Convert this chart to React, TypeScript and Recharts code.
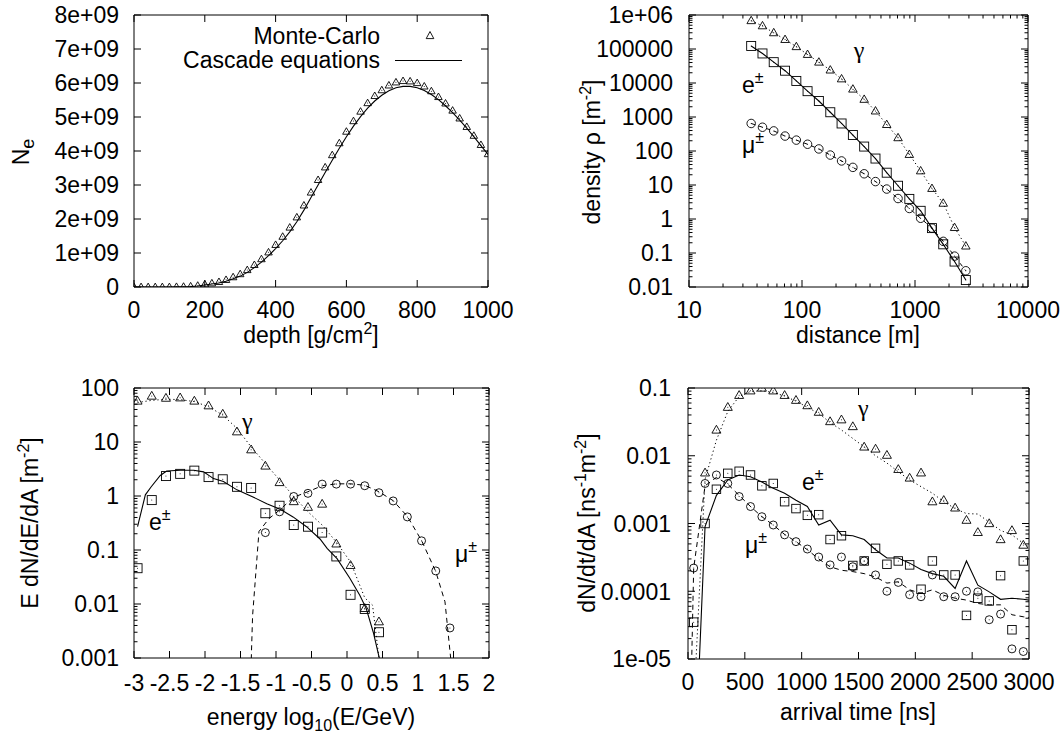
import React from "react";
import { ComposedChart, XAxis, YAxis, Line, Scatter, ReferenceLine } from "recharts";

const FONT = '"Liberation Sans", Arial, Helvetica, sans-serif';
const GREEK = '"Liberation Serif", "DejaVu Serif", serif';
const FS = 23;

// ---------------- Panel 1: longitudinal profile ----------------
const depth = [0, 20, 40, 60, 80, 100, 120, 140, 160, 180, 200, 220, 240, 260, 280, 300, 320, 340, 360, 380, 400, 420, 440, 460, 480, 500, 520, 540, 560, 580, 600, 620, 640, 660, 680, 700, 720, 740, 760, 780, 800, 820, 840, 860, 880, 900, 920, 940, 960, 980, 1000];
// N_e in units of 1e9
const neMonteCarlo = [0, 0, 0, 0, 0, 0, 0.005, 0.01, 0.02, 0.04, 0.08, 0.11, 0.15, 0.21, 0.29, 0.38, 0.5, 0.65, 0.82, 1.02, 1.24, 1.48, 1.75, 2.05, 2.4, 2.78, 3.15, 3.52, 3.88, 4.23, 4.57, 4.88, 5.16, 5.41, 5.62, 5.79, 5.93, 6.02, 6.06, 6.05, 6.0, 5.9, 5.76, 5.59, 5.4, 5.19, 4.96, 4.71, 4.45, 4.18, 3.91];
const neCascade = [0, 0, 0, 0, 0, 0, 0.003, 0.007, 0.015, 0.03, 0.06, 0.09, 0.12, 0.17, 0.24, 0.32, 0.43, 0.57, 0.73, 0.92, 1.13, 1.36, 1.62, 1.92, 2.26, 2.63, 3.0, 3.37, 3.73, 4.08, 4.42, 4.73, 5.01, 5.26, 5.47, 5.64, 5.77, 5.86, 5.9, 5.9, 5.86, 5.78, 5.66, 5.51, 5.33, 5.13, 4.91, 4.67, 4.42, 4.16, 3.9];
const p1XTicks = [0, 200, 400, 600, 800, 1000];
const p1XLabels = ["0", "200", "400", "600", "800", "1000"];
const p1YTicks = [0, 1, 2, 3, 4, 5, 6, 7, 8];
const p1YLabels = ["0", "1e+09", "2e+09", "3e+09", "4e+09", "5e+09", "6e+09", "7e+09", "8e+09"];

// ---------------- Panel 2: lateral distribution ----------------
const distance = [35.5, 44.7, 56.2, 70.8, 89.1, 112, 141, 178, 224, 282, 355, 447, 562, 708, 891, 1122, 1413, 1778, 2239, 2818];
const rhoGamma = [680000, 480000, 300000, 190000, 117000, 69000, 41000, 24000, 13200, 6600, 3300, 1500, 600, 245, 79, 26, 7.9, 2.9, 0.56, 0.16];
const rhoElectron = [123000, 74000, 41000, 23000, 11500, 5750, 2950, 1380, 645, 295, 135, 60, 23, 9.5, 3.9, 1.74, 0.54, 0.18, 0.056, 0.016];
const rhoMuon = [645, 500, 390, 275, 209, 158, 115, 76, 51, 33, 21.4, 12.6, 7.6, 4.0, 2.04, 1.05, 0.54, 0.22, 0.081, 0.030];
const p2XMajors = [10, 100, 1000, 10000];
const p2XLabels = ["10", "100", "1000", "10000"];
const p2YMajors = [0.01, 0.1, 1, 10, 100, 1000, 10000, 100000, 1000000];
const p2YLabels = ["0.01", "0.1", "1", "10", "100", "1000", "10000", "100000", "1e+06"];

// ---------------- Panel 3: energy spectra ----------------
const energyMC = [-2.95, -2.75, -2.55, -2.35, -2.15, -1.95, -1.75, -1.55, -1.35, -1.15, -0.95, -0.75, -0.55, -0.35, -0.15, 0.05, 0.25, 0.45];
const specGammaMC = [57.5, 71, 65, 66, 57.5, 47, 33, 15.5, 7.2, 3.6, 1.78, 0.79, 0.62, 0.71, 0.13, 0.052, 0.0083, 0.0047];
const specElectronMC = [0.046, 0.84, 2.34, 2.57, 2.95, 2.24, 2.04, 1.48, 1.41, 0.48, 0.66, 0.29, 0.27, 0.21, 0.076, 0.0148, 0.0081, 0.003];
const energyMuMC = [-1.15, -0.95, -0.75, -0.55, -0.35, -0.15, 0.05, 0.25, 0.45, 0.65, 0.85, 1.05, 1.25, 1.45];
const specMuonMC = [0.21, 0.51, 0.98, 1.12, 1.66, 1.66, 1.66, 1.55, 1.15, 0.81, 0.41, 0.148, 0.041, 0.0036];
const energyGammaCE = [-2.95, -2.75, -2.55, -2.35, -2.15, -1.95, -1.75, -1.55, -1.35, -1.15, -0.95, -0.75, -0.55, -0.35, -0.15, 0.05, 0.25, 0.36, 0.45, 0.47];
const specGammaCE = [54, 59, 62, 61, 56, 45, 31.5, 17.9, 8.1, 4.0, 1.98, 0.98, 0.51, 0.29, 0.14, 0.06, 0.013, 0.0095, 0.001, 0.0004];
const energyElectronCE = [-2.95, -2.84, -2.76, -2.63, -2.54, -2.35, -2.16, -2.02, -1.88, -1.74, -1.55, -1.34, -1.13, -0.94, -0.76, -0.57, -0.38, -0.28, -0.14, 0.04, 0.18, 0.27, 0.37, 0.455, 0.5];
const specElectronCE = [0.27, 1.05, 1.47, 2.4, 2.9, 3.0, 3.0, 2.8, 2.1, 1.85, 1.3, 0.98, 0.72, 0.57, 0.41, 0.27, 0.16, 0.107, 0.069, 0.03, 0.0145, 0.0083, 0.003, 0.001, 0.0003];
const energyMuonCE = [-1.36, -1.33, -1.24, -1.1, -0.95, -0.75, -0.55, -0.35, -0.15, 0.05, 0.25, 0.45, 0.65, 0.85, 1.05, 1.25, 1.38, 1.46, 1.48];
const specMuonCE = [0.0003, 0.006, 0.22, 0.38, 0.55, 0.95, 1.2, 1.55, 1.68, 1.68, 1.58, 1.2, 0.82, 0.42, 0.15, 0.04, 0.011, 0.001, 0.0003];
const p3XMajors = [-3, -2.5, -2, -1.5, -1, -0.5, 0, 0.5, 1, 1.5, 2];
const p3XLabels = ["-3", "-2.5", "-2", "-1.5", "-1", "-0.5", "0", "0.5", "1", "1.5", "2"];
const p3YMajors = [0.001, 0.01, 0.1, 1, 10, 100];
const p3YLabels = ["0.001", "0.01", "0.1", "1", "10", "100"];

// ---------------- Panel 4: arrival time ----------------
const timeMC = [50, 150, 250, 350, 450, 550, 650, 750, 850, 950, 1050, 1150, 1250, 1350, 1450, 1550, 1650, 1750, 1850, 1950, 2050, 2150, 2250, 2350, 2450, 2550, 2650, 2750, 2850, 2950];
const timeGammaMC = [150, 250, 350, 450, 550, 650, 750, 850, 950, 1050, 1150, 1250, 1350, 1450, 1550, 1650, 1750, 1850, 1950, 2050, 2150, 2250, 2350, 2450, 2550, 2650, 2750, 2850, 2950];
const tGammaMC = [0.0056, 0.024, 0.052, 0.078, 0.091, 0.1, 0.091, 0.078, 0.066, 0.055, 0.044, 0.032, 0.034, 0.027, 0.0135, 0.0126, 0.0102, 0.0063, 0.0047, 0.0056, 0.0021, 0.0022, 0.0017, 0.00112, 0.00074, 0.001, 0.00058, 0.00079, 0.00048];
const tElectronMC = [0.000035, 0.001, 0.0032, 0.0055, 0.0059, 0.0052, 0.0036, 0.0039, 0.0021, 0.00166, 0.00132, 0.00135, 0.00058, 0.00066, 0.00024, 0.00028, 0.00043, 0.00025, 0.00028, 0.000245, 0.000107, 0.00028, 0.000174, 0.000174, 0.000044, 0.000079, 0.000072, 0.00017, 0.000027, 0.00028];
const tMuonMC = [0.00022, 0.0039, 0.0052, 0.0039, 0.0025, 0.00178, 0.00126, 0.00095, 0.00068, 0.00054, 0.00042, 0.00032, 0.000245, 0.00032, 0.00023, 0.00028, 0.000174, 0.0001, 0.000135, 0.000089, 0.000083, 0.000174, 0.000083, 0.000083, 0.0001, 0.000098, 0.000038, 0.000046, 0.0000141, 0.0000129];
const timeCE = [50, 150, 250, 350, 450, 550, 650, 750, 850, 950, 1050, 1150, 1250, 1350, 1450, 1550, 1650, 1750, 1850, 1950, 2050, 2150, 2250, 2350, 2450, 2550, 2650, 2750, 2850, 2950, 3000];
const tGammaCE = [0.000002, 0.0045, 0.017, 0.045, 0.075, 0.089, 0.091, 0.086, 0.076, 0.064, 0.052, 0.042, 0.031, 0.024, 0.018, 0.0135, 0.01, 0.0078, 0.0058, 0.0044, 0.0035, 0.0028, 0.0021, 0.00166, 0.0014, 0.00138, 0.00105, 0.00079, 0.00068, 0.00051, 0.00045];
const tElectronCE = [0.0000001, 0.0009, 0.0026, 0.0044, 0.0052, 0.0049, 0.0041, 0.0033, 0.0028, 0.0022, 0.00178, 0.00095, 0.00112, 0.00068, 0.00066, 0.00058, 0.00041, 0.00031, 0.00031, 0.00026, 0.00021, 0.000182, 0.000166, 0.00011, 0.00028, 0.000123, 0.000098, 0.000076, 0.000079, 0.000076, 0.000074];
const timeMuonCE = [20, 50, 150, 250, 350, 450, 550, 650, 750, 850, 950, 1050, 1150, 1250, 1350, 1450, 1550, 1650, 1750, 1850, 1950, 2050, 2150, 2250, 2350, 2450, 2550, 2650, 2750, 2850, 2950, 3000];
const tMuonCE = [0.000001, 0.00022, 0.0036, 0.0048, 0.0038, 0.0026, 0.00178, 0.00126, 0.00095, 0.00069, 0.00054, 0.00041, 0.0003, 0.00023, 0.000204, 0.000195, 0.000182, 0.000162, 0.000132, 0.000138, 0.000105, 0.000093, 0.000105, 0.000087, 0.000079, 0.000074, 0.000066, 0.000063, 0.000063, 0.000045, 0.000042, 0.000041];
const p4XMajors = [0, 500, 1000, 1500, 2000, 2500, 3000];
const p4XLabels = ["0", "500", "1000", "1500", "2000", "2500", "3000"];
const p4YMajors = [0.00001, 0.0001, 0.001, 0.01, 0.1];
const p4YLabels = ["1e-05", "0.0001", "0.001", "0.01", "0.1"];

// ---------------- helpers ----------------
const pts = (xs: number[], ys: number[]) => xs.map((x, i) => ({ x, y: ys[i] }));

const logTicks = (majors: number[]) => {
  const out: number[] = [];
  majors.forEach((m, i) => {
    out.push(m);
    if (i < majors.length - 1) {
      for (let k = 2; k <= 9; k++) out.push(parseFloat((m * k).toPrecision(6)));
    }
  });
  return out;
};

const findMajor = (majors: number[], v: number) =>
  majors.findIndex((m) => (m === 0 ? v === 0 : Math.abs(m - v) <= 1e-6 * Math.abs(m)));

const makeXTick = (majors: number[], labels: string[], top: number, bottom: number, dy: number) => (p: any) => {
  const x = p.x;
  const v = p.payload ? p.payload.value : NaN;
  const j = findMajor(majors, v);
  const len = j >= 0 ? 7 : 3.5;
  return (
    <g>
      <line x1={x} x2={x} y1={bottom} y2={bottom - len} stroke="#000" strokeWidth={1} />
      <line x1={x} x2={x} y1={top} y2={top + len} stroke="#000" strokeWidth={1} />
      {j >= 0 && (
        <text x={x} y={bottom + dy} textAnchor="middle" fontFamily={FONT} fontSize={FS} fill="#000">
          {labels[j]}
        </text>
      )}
    </g>
  );
};

const makeYTick = (majors: number[], labels: string[], left: number, right: number, gap: number) => (p: any) => {
  const y = p.y;
  const v = p.payload ? p.payload.value : NaN;
  const j = findMajor(majors, v);
  const len = j >= 0 ? 7 : 3.5;
  return (
    <g>
      <line x1={left} x2={left + len} y1={y} y2={y} stroke="#000" strokeWidth={1} />
      <line x1={right} x2={right - len} y1={y} y2={y} stroke="#000" strokeWidth={1} />
      {j >= 0 && (
        <text x={left - gap} y={y} dy="0.36em" textAnchor="end" fontFamily={FONT} fontSize={FS} fill="#000">
          {labels[j]}
        </text>
      )}
    </g>
  );
};

const triShape = (s: number) => (p: any) => {
  const { cx, cy } = p;
  if (!Number.isFinite(cx) || !Number.isFinite(cy)) return <g />;
  const h = s * 0.87;
  return (
    <g>
      <polygon
        points={`${cx},${cy - h * 0.6} ${cx - s / 2},${cy + h * 0.4} ${cx + s / 2},${cy + h * 0.4}`}
        fill="none"
        stroke="#000"
        strokeWidth={0.9}
      />
      <circle cx={cx} cy={cy} r={0.5} fill="#000" />
    </g>
  );
};
const sqShape = (s: number) => (p: any) => {
  const { cx, cy } = p;
  if (!Number.isFinite(cx) || !Number.isFinite(cy)) return <g />;
  return (
    <g>
      <rect x={cx - s / 2} y={cy - s / 2} width={s} height={s} fill="none" stroke="#000" strokeWidth={0.9} />
      <circle cx={cx} cy={cy} r={0.5} fill="#000" />
    </g>
  );
};
const circShape = (s: number) => (p: any) => {
  const { cx, cy } = p;
  if (!Number.isFinite(cx) || !Number.isFinite(cy)) return <g />;
  return (
    <g>
      <circle cx={cx} cy={cy} r={s / 2} fill="none" stroke="#000" strokeWidth={0.9} />
      <circle cx={cx} cy={cy} r={0.5} fill="#000" />
    </g>
  );
};

type PanelProps = {
  left: number;
  top: number;
  width: number;
  height: number;
  pl: number;
  pr: number;
  pt: number;
  pb: number;
  xDomain: [number, number];
  yDomain: [number, number];
  xLog?: boolean;
  yLog?: boolean;
  xTicks: number[];
  xMajors: number[];
  xLabels: string[];
  yTicks: number[];
  yMajors: number[];
  yLabels: string[];
  yGap: number;
  xDy: number;
  children: React.ReactNode;
};

const AXW = 60;
const AXH = 30;

function Panel(p: PanelProps) {
  const margin = { left: p.pl - AXW, right: p.width - p.pr, top: p.pt, bottom: p.height - p.pb - AXH };
  return (
    <div style={{ position: "absolute", left: p.left, top: p.top }}>
      <ComposedChart width={p.width} height={p.height} margin={margin}>
        <XAxis
          dataKey="x"
          type="number"
          scale={p.xLog ? "log" : "linear"}
          domain={p.xDomain}
          allowDataOverflow
          ticks={p.xTicks}
          interval={0}
          height={AXH}
          tickSize={0}
          tickMargin={0}
          tickLine={false}
          axisLine={{ stroke: "#000", strokeWidth: 1 }}
          tick={makeXTick(p.xMajors, p.xLabels, p.pt, p.pb, p.xDy)}
        />
        <YAxis
          dataKey="y"
          type="number"
          scale={p.yLog ? "log" : "linear"}
          domain={p.yDomain}
          allowDataOverflow
          ticks={p.yTicks}
          interval={0}
          width={AXW}
          tickSize={0}
          tickMargin={0}
          tickLine={false}
          axisLine={{ stroke: "#000", strokeWidth: 1 }}
          tick={makeYTick(p.yMajors, p.yLabels, p.pl, p.pr, p.yGap)}
        />
        <ReferenceLine y={p.yDomain[1]} stroke="#000" strokeWidth={1} />
        <ReferenceLine x={p.xDomain[1]} stroke="#000" strokeWidth={1} />
        {p.children}
      </ComposedChart>
    </div>
  );
}

const DOT = "1.2 2.8";
const DASH = "5 4";

export default function App() {
  return (
    <div style={{ position: "absolute", left: 0, top: 0, width: 1064, height: 734, background: "#fff" }}>
      {/* Panel 1 */}
      <Panel
        left={0}
        top={0}
        width={532}
        height={367}
        pl={134}
        pr={488}
        pt={15}
        pb={287}
        xDomain={[0, 1000]}
        yDomain={[0, 8]}
        xTicks={p1XTicks}
        xMajors={p1XTicks}
        xLabels={p1XLabels}
        yTicks={p1YTicks}
        yMajors={p1YTicks}
        yLabels={p1YLabels}
        yGap={15}
        xDy={31}
      >
        <Line data={pts(depth, neCascade)} dataKey="y" stroke="#000" strokeWidth={1.1} dot={false} activeDot={false} isAnimationActive={false} />
        <Scatter data={pts(depth, neMonteCarlo)} shape={triShape(7.5)} isAnimationActive={false} />
      </Panel>

      {/* Panel 2 */}
      <Panel
        left={532}
        top={0}
        width={532}
        height={367}
        pl={157}
        pr={496}
        pt={15}
        pb={287}
        xDomain={[10, 10000]}
        yDomain={[0.01, 1000000]}
        xLog
        yLog
        xTicks={logTicks(p2XMajors)}
        xMajors={p2XMajors}
        xLabels={p2XLabels}
        yTicks={logTicks(p2YMajors)}
        yMajors={p2YMajors}
        yLabels={p2YLabels}
        yGap={16}
        xDy={31}
      >
        <Line data={pts(distance, rhoGamma)} dataKey="y" stroke="#000" strokeWidth={1} strokeDasharray={DOT} dot={false} activeDot={false} isAnimationActive={false} />
        <Line data={pts(distance, rhoElectron)} dataKey="y" stroke="#000" strokeWidth={1.1} dot={false} activeDot={false} isAnimationActive={false} />
        <Line data={pts(distance, rhoMuon)} dataKey="y" stroke="#000" strokeWidth={1} strokeDasharray="4 4" dot={false} activeDot={false} isAnimationActive={false} />
        <Scatter data={pts(distance, rhoGamma)} shape={triShape(8.5)} isAnimationActive={false} />
        <Scatter data={pts(distance, rhoElectron)} shape={sqShape(9)} isAnimationActive={false} />
        <Scatter data={pts(distance, rhoMuon)} shape={circShape(8.5)} isAnimationActive={false} />
      </Panel>

      {/* Panel 3 */}
      <Panel
        left={0}
        top={367}
        width={532}
        height={367}
        pl={134}
        pr={489}
        pt={21}
        pb={291}
        xDomain={[-3, 2]}
        yDomain={[0.001, 100]}
        yLog
        xTicks={p3XMajors}
        xMajors={p3XMajors}
        xLabels={p3XLabels}
        yTicks={logTicks(p3YMajors)}
        yMajors={p3YMajors}
        yLabels={p3YLabels}
        yGap={15}
        xDy={33}
      >
        <Line data={pts(energyGammaCE, specGammaCE)} dataKey="y" stroke="#000" strokeWidth={1} strokeDasharray={DOT} dot={false} activeDot={false} isAnimationActive={false} />
        <Line data={pts(energyElectronCE, specElectronCE)} dataKey="y" stroke="#000" strokeWidth={1.1} dot={false} activeDot={false} isAnimationActive={false} />
        <Line data={pts(energyMuonCE, specMuonCE)} dataKey="y" stroke="#000" strokeWidth={1} strokeDasharray={DASH} dot={false} activeDot={false} isAnimationActive={false} />
        <Scatter data={pts(energyMC, specGammaMC)} shape={triShape(9)} isAnimationActive={false} />
        <Scatter data={pts(energyMC, specElectronMC)} shape={sqShape(9)} isAnimationActive={false} />
        <Scatter data={pts(energyMuMC, specMuonMC)} shape={circShape(8)} isAnimationActive={false} />
      </Panel>

      {/* Panel 4 */}
      <Panel
        left={532}
        top={367}
        width={532}
        height={367}
        pl={156}
        pr={497}
        pt={21}
        pb={292}
        xDomain={[0, 3000]}
        yDomain={[0.00001, 0.1]}
        yLog
        xTicks={p4XMajors}
        xMajors={p4XMajors}
        xLabels={p4XLabels}
        yTicks={logTicks(p4YMajors)}
        yMajors={p4YMajors}
        yLabels={p4YLabels}
        yGap={17}
        xDy={31}
      >
        <Line data={pts(timeCE, tGammaCE)} dataKey="y" stroke="#000" strokeWidth={1} strokeDasharray={DOT} dot={false} activeDot={false} isAnimationActive={false} />
        <Line data={pts(timeCE, tElectronCE)} dataKey="y" stroke="#000" strokeWidth={1.1} dot={false} activeDot={false} isAnimationActive={false} />
        <Line data={pts(timeMuonCE, tMuonCE)} dataKey="y" stroke="#000" strokeWidth={1} strokeDasharray={DASH} dot={false} activeDot={false} isAnimationActive={false} />
        <Scatter data={pts(timeGammaMC, tGammaMC)} shape={triShape(9)} isAnimationActive={false} />
        <Scatter data={pts(timeMC, tElectronMC)} shape={sqShape(8.5)} isAnimationActive={false} />
        <Scatter data={pts(timeMC, tMuonMC)} shape={circShape(8)} isAnimationActive={false} />
      </Panel>

      {/* Titles, labels and legend */}
      <svg
        width={1064}
        height={734}
        style={{ position: "absolute", left: 0, top: 0, pointerEvents: "none" }}
        fontFamily={FONT}
        fontSize={FS}
        fill="#000"
      >
        {/* Panel 1 */}
        <text transform="translate(29,152) rotate(-90)" textAnchor="middle">
          N<tspan dy={5} fontSize={18}>e</tspan>
        </text>
        <text x={311} y={343} textAnchor="middle">
          depth [g/cm<tspan dy={-9} fontSize={16}>2</tspan>
          <tspan dy={9}>]</tspan>
        </text>
        <text x={380} y={44} textAnchor="end">Monte-Carlo</text>
        <text x={380} y={68} textAnchor="end">Cascade equations</text>
        <polygon points="430,31.5 426.2,38.6 433.8,38.6" fill="none" stroke="#000" strokeWidth={0.9} />
        <line x1={395} x2={462} y1={60.5} y2={60.5} stroke="#000" strokeWidth={1.1} />

        {/* Panel 2 */}
        <text transform="translate(600,152) rotate(-90)" textAnchor="middle">
          density ρ [m<tspan dy={-9} fontSize={16}>-2</tspan>
          <tspan dy={9}>]</tspan>
        </text>
        <text x={858} y={343} textAnchor="middle">distance [m]</text>
        <text x={859} y={58} textAnchor="middle" fontFamily={GREEK} fontSize={24}>γ</text>
        <text x={742} y={93}>
          e<tspan dy={-10} fontSize={16}>±</tspan>
        </text>
        <text x={742} y={153}>
          μ<tspan dy={-10} fontSize={16}>±</tspan>
        </text>

        {/* Panel 3 */}
        <text transform="translate(38,523) rotate(-90)" textAnchor="middle">
          E dN/dE/dA [m<tspan dy={-9} fontSize={16}>-2</tspan>
          <tspan dy={9}>]</tspan>
        </text>
        <text x={311} y={725} textAnchor="middle">
          energy log<tspan dy={6} fontSize={16}>10</tspan>
          <tspan dy={-6}>(E/GeV)</tspan>
        </text>
        <text x={242} y={429} fontFamily={GREEK} fontSize={24}>γ</text>
        <text x={149} y={530}>
          e<tspan dy={-10} fontSize={16}>±</tspan>
        </text>
        <text x={455} y={562}>
          μ<tspan dy={-10} fontSize={16}>±</tspan>
        </text>

        {/* Panel 4 */}
        <text transform="translate(595,523) rotate(-90)" textAnchor="middle">
          dN/dt/dA [ns<tspan dy={-9} fontSize={16}>-1</tspan>
          <tspan dy={9}>m</tspan>
          <tspan dy={-9} fontSize={16}>-2</tspan>
          <tspan dy={9}>]</tspan>
        </text>
        <text x={858} y={720} textAnchor="middle">arrival time [ns]</text>
        <text x={858} y={416} fontFamily={GREEK} fontSize={24}>γ</text>
        <text x={802} y={490}>
          e<tspan dy={-10} fontSize={16}>±</tspan>
        </text>
        <text x={745} y={553}>
          μ<tspan dy={-10} fontSize={16}>±</tspan>
        </text>
      </svg>
    </div>
  );
}
